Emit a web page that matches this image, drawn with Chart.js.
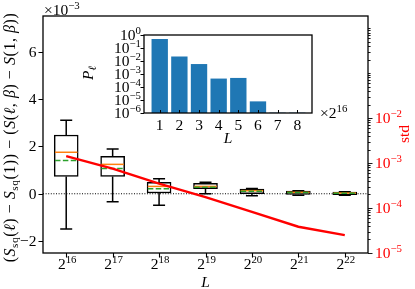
<!DOCTYPE html>
<html><head><meta charset="utf-8">
<script src="https://cdn.jsdelivr.net/npm/chart.js@4.4.0/dist/chart.umd.min.js"></script>
<style>
html,body{margin:0;padding:0;background:#fff;}
#wrap{position:relative;width:415px;height:289px;overflow:hidden;}
#main{position:absolute;left:0;top:0;}
#inset{position:absolute;left:80px;top:25px;}
</style></head><body>
<div id="wrap">
<canvas id="main" width="415" height="289"></canvas>
<canvas id="inset" width="285" height="125"></canvas>
</div>
<script>
// ---------- data ----------
const L_EXP    = [16, 17, 18, 19, 20, 21, 22];           // L = 2^n
const WHISK_LO = [-1.49, -0.34, -0.49, 0.00, -0.08, -0.06, -0.06]; // x1e-3
const Q1       = [0.73, 0.73, 0.03, 0.21, 0.00, -0.03, -0.04];
const MEDIAN   = [1.75, 1.24, 0.31, 0.31, 0.13, 0.06, 0.03];
const MEAN     = [1.40, 1.07, 0.21, 0.27, 0.11, 0.05, 0.02];
const Q3       = [2.48, 1.58, 0.48, 0.44, 0.20, 0.11, 0.07];
const WHISK_HI = [3.10, 1.89, 0.63, 0.49, 0.22, 0.13, 0.08];
const STD      = [1.43e-3, 7.55e-4, 3.48e-4, 1.75e-4, 8.2e-5, 3.84e-5, 2.5e-5];
const Y_TICKS  = [-2, 0, 2, 4, 6];
const STD_LABEL_EXP = [-5, -4, -3, -2];
const STD_DECADES   = [-5, -4, -3, -2, -1, 0];
const INSET_L  = [1, 2, 3, 4, 5, 6, 7, 8];               // x 2^16
const INSET_P  = [0.47, 0.021, 0.0055, 4.2e-4, 4.7e-4, 7.4e-6, 0, 0];
const INSET_Y_EXP = [0, -1, -2, -3, -4, -5, -6];

// ---------- text helpers ----------
const FF = '"Liberation Serif", "DejaVu Serif", serif';
const FS = 15.5;
function fnt(sz, it){ return (it ? 'italic ' : '') + sz + 'px ' + FF; }
function segSize(s, fs){ return (s.sup || s.sub) ? fs * 0.7 : fs; }
function richWidth(ctx, segs, fs){
  let w = 0;
  for (const s of segs){ ctx.font = fnt(segSize(s, fs), s.it); w += ctx.measureText(s.t).width; }
  return w;
}
function drawRich(ctx, segs, x, y, fs, align, color){
  const w = richWidth(ctx, segs, fs);
  let cx = align === 'center' ? x - w / 2 : align === 'right' ? x - w : x;
  ctx.fillStyle = color || '#000';
  ctx.textBaseline = 'alphabetic';
  ctx.textAlign = 'left';
  for (const s of segs){
    ctx.font = fnt(segSize(s, fs), s.it);
    const dy = s.sup ? -fs * 0.38 : s.sub ? fs * 0.2 : 0;
    ctx.fillText(s.t, cx, y + dy);
    cx += ctx.measureText(s.t).width;
  }
}
const MINUS = '\u2212';
function numStr(v){ return v < 0 ? MINUS + Math.abs(v) : String(v); }
function expStr(e){ return e < 0 ? MINUS + Math.abs(e) : String(e); }

// ---------- main chart plugins ----------
const boxPlugin = {
  id: 'boxes',
  afterDatasetDraw(chart, args){
    if (args.index !== 1) return;
    const {ctx, scales: {x, y}} = chart;
    ctx.save();
    L_EXP.forEach((e, i) => {
      const px = x.getPixelForValue(e);
      const hw = 11.25, cw = 6;
      const yHi = y.getPixelForValue(WHISK_HI[i]);
      const yLo = y.getPixelForValue(WHISK_LO[i]);
      ctx.setLineDash([]);
      ctx.strokeStyle = '#000';
      ctx.lineWidth = 1.5;
      ctx.beginPath();
      ctx.moveTo(px, y.getPixelForValue(Q3[i])); ctx.lineTo(px, yHi);
      ctx.moveTo(px, y.getPixelForValue(Q1[i])); ctx.lineTo(px, yLo);
      ctx.moveTo(px - cw, yHi); ctx.lineTo(px + cw, yHi);
      ctx.moveTo(px - cw, yLo); ctx.lineTo(px + cw, yLo);
      ctx.stroke();
      const yMed = y.getPixelForValue(MEDIAN[i]);
      ctx.strokeStyle = '#ff7f0e';
      ctx.beginPath(); ctx.moveTo(px - hw, yMed); ctx.lineTo(px + hw, yMed); ctx.stroke();
      const yMean = y.getPixelForValue(MEAN[i]);
      ctx.strokeStyle = '#2ca02c';
      ctx.setLineDash([5.5, 2.4]);
      ctx.beginPath(); ctx.moveTo(px - hw, yMean); ctx.lineTo(px + hw, yMean); ctx.stroke();
    });
    ctx.restore();
  }
};

const mainDecor = {
  id: 'mainDecor',
  afterDraw(chart){
    const {ctx, chartArea: a, scales: {x, y, y2}} = chart;
    ctx.save();
    ctx.setLineDash([]);
    ctx.strokeStyle = '#000';
    ctx.lineWidth = 1.3;
    ctx.strokeRect(a.left, a.top, a.right - a.left, a.bottom - a.top);
    ctx.lineWidth = 1.1;
    // x ticks
    ctx.beginPath();
    L_EXP.forEach(e => { const px = Math.round(x.getPixelForValue(e)) + 0.5; ctx.moveTo(px, a.bottom); ctx.lineTo(px, a.bottom + 4.5); });
    Y_TICKS.forEach(v => { const py = Math.round(y.getPixelForValue(v)) + 0.5; ctx.moveTo(a.left, py); ctx.lineTo(a.left - 4.5, py); });
    ctx.stroke();
    // right log ticks
    ctx.beginPath();
    STD_DECADES.forEach(d => {
      const base = Math.pow(10, d);
      const major = STD_LABEL_EXP.includes(d);
      if (base >= y2.min && base <= y2.max){
        const py = Math.round(y2.getPixelForValue(base)) + 0.5;
        ctx.moveTo(a.right, py); ctx.lineTo(a.right + (major ? 4.5 : 2.6), py);
      }
      for (let k = 2; k <= 9; k++){
        const v = k * base;
        if (v < y2.min || v > y2.max) continue;
        const py = Math.round(y2.getPixelForValue(v)) + 0.5;
        ctx.moveTo(a.right, py); ctx.lineTo(a.right + 2.6, py);
      }
    });
    ctx.lineWidth = 0.9;
    ctx.stroke();
    // x tick labels 2^n
    L_EXP.forEach(e => {
      drawRich(ctx, [{t: '2'}, {t: String(e), sup: 1}], x.getPixelForValue(e) + 1, 268.5, FS, 'center');
    });
    // y tick labels
    Y_TICKS.forEach(v => {
      drawRich(ctx, [{t: numStr(v)}], a.left - 6.5, y.getPixelForValue(v) + FS * 0.33, FS, 'right');
    });
    // right tick labels
    STD_LABEL_EXP.forEach(d => {
      drawRich(ctx, [{t: '10'}, {t: expStr(d), sup: 1}], a.right + 7, y2.getPixelForValue(Math.pow(10, d)) + FS * 0.33, FS, 'left', '#ff0000');
    });
    // offset text
    drawRich(ctx, [{t: '\u00d710'}, {t: MINUS + '3', sup: 1}], a.left + 1, 15, FS, 'left');
    // x label
    drawRich(ctx, [{t: 'L', it: 1}], (a.left + a.right) / 2, 287, FS, 'center');
    // y label
    ctx.save();
    ctx.translate(15, (a.top + a.bottom) / 2 + 3);
    ctx.rotate(-Math.PI / 2);
    ctx.letterSpacing = '0.55px';
    drawRich(ctx, [
      {t: '('}, {t: 'S', it: 1}, {t: 'sq', sub: 1}, {t: '('}, {t: '\u2113', it: 1}, {t: ') ' + MINUS + ' '},
      {t: 'S', it: 1}, {t: 'sq', sub: 1}, {t: '(1)) ' + MINUS + ' ('},
      {t: 'S', it: 1}, {t: '('}, {t: '\u2113', it: 1}, {t: ', '}, {t: '\u03b2', it: 1}, {t: ') ' + MINUS + ' '},
      {t: 'S', it: 1}, {t: '(1, '}, {t: '\u03b2', it: 1}, {t: '))'}
    ], 0, 0, 16, 'center');
    ctx.restore();
    // right label
    ctx.save();
    ctx.translate(409, 134);
    ctx.rotate(-Math.PI / 2);
    drawRich(ctx, [{t: 'std'}], 0, 0, FS, 'center', '#ff0000');
    ctx.restore();
    ctx.restore();
  }
};

new Chart(document.getElementById('main'), {
  type: 'bar',
  data: {
    datasets: [
      { type: 'line', label: 'std', data: L_EXP.map((e, i) => ({x: e, y: STD[i]})), yAxisID: 'y2', xAxisID: 'x',
        borderColor: '#ff0000', borderWidth: 2.4, pointRadius: 0, tension: 0, fill: false, order: 0 },
      { type: 'bar', label: 'box', data: L_EXP.map((e, i) => ({x: e, y: [Q1[i], Q3[i]]})), yAxisID: 'y', xAxisID: 'x',
        backgroundColor: '#ffffff', borderColor: '#000000', borderWidth: 1.5, borderSkipped: false, barThickness: 24, order: 2 },
      { type: 'line', label: 'zero', data: [{x: 15.5, y: 0}, {x: 22.5, y: 0}], yAxisID: 'y', xAxisID: 'x',
        borderColor: '#000000', borderWidth: 1, borderDash: [1, 1.6], pointRadius: 0, fill: false, order: 3 }
    ]
  },
  options: {
    responsive: false, animation: false, devicePixelRatio: 1,
    layout: {padding: {top: 16, left: 0, right: 0, bottom: 0}},
    plugins: {legend: {display: false}, tooltip: {enabled: false}},
    scales: {
      x: { type: 'linear', min: 15.5, max: 22.5, offset: false,
           grid: {display: false, offset: false}, ticks: {display: false}, border: {display: false},
           afterFit: s => { s.height = 36; } },
      y: { type: 'linear', position: 'left', min: -2.5, max: 7.5,
           grid: {display: false}, ticks: {display: false}, border: {display: false},
           afterFit: s => { s.width = 43; } },
      y2: { type: 'logarithmic', position: 'right', min: 1e-5, max: Math.pow(10, 0.27),
           grid: {display: false}, ticks: {display: false}, border: {display: false},
           afterFit: s => { s.width = 47; } }
    }
  },
  plugins: [boxPlugin, mainDecor]
});

// ---------- inset ----------
const insetDecor = {
  id: 'insetDecor',
  beforeDraw(chart){
    const {ctx, chartArea: a} = chart;
    ctx.save(); ctx.fillStyle = '#fff'; ctx.fillRect(a.left, a.top, a.right - a.left, a.bottom - a.top); ctx.restore();
  },
  afterDraw(chart){
    const {ctx, chartArea: a, scales: {x, y}} = chart;
    ctx.save();
    ctx.strokeStyle = '#000';
    ctx.lineWidth = 1.3;
    ctx.strokeRect(a.left, a.top, a.right - a.left, a.bottom - a.top);
    ctx.lineWidth = 1;
    ctx.beginPath();
    INSET_L.forEach(v => { const px = Math.round(x.getPixelForValue(v)) + 0.5; ctx.moveTo(px, a.bottom); ctx.lineTo(px, a.bottom - 3); });
    INSET_Y_EXP.forEach(e => { const py = Math.round(y.getPixelForValue(Math.pow(10, e))) + 0.5; ctx.moveTo(a.left, py); ctx.lineTo(a.left - 3.5, py); });
    ctx.stroke();
    INSET_Y_EXP.forEach(e => {
      drawRich(ctx, [{t: '10'}, {t: expStr(e), sup: 1}], a.left - 3, y.getPixelForValue(Math.pow(10, e)) + FS * 0.33, FS, 'right');
    });
    INSET_L.forEach(v => {
      drawRich(ctx, [{t: String(v)}], x.getPixelForValue(v), 105, FS, 'center');
    });
    drawRich(ctx, [{t: '\u00d72'}, {t: '16', sup: 1}], a.right + 8, 93, FS, 'left');
    drawRich(ctx, [{t: 'L', it: 1}], (a.left + a.right) / 2, 118, FS, 'center');
    ctx.save();
    ctx.translate(13, 48);
    ctx.rotate(-Math.PI / 2);
    drawRich(ctx, [{t: 'P', it: 1}, {t: '\u2113', it: 1, sub: 1}], 0, 0, FS, 'center');
    ctx.restore();
    ctx.restore();
  }
};

new Chart(document.getElementById('inset'), {
  type: 'bar',
  data: { datasets: [{ label: 'P', data: INSET_L.map((v, i) => ({x: v, y: INSET_P[i]})),
    backgroundColor: '#1f77b4', borderWidth: 0, barThickness: 15.7 }] },
  options: {
    responsive: false, animation: false, devicePixelRatio: 1,
    layout: {padding: {top: 10, right: 53, left: 0, bottom: 0}},
    plugins: {legend: {display: false}, tooltip: {enabled: false}},
    scales: {
      x: { type: 'linear', min: 0.2, max: 8.75, offset: false,
           grid: {display: false, offset: false}, ticks: {display: false}, border: {display: false},
           afterFit: s => { s.height = 37; } },
      y: { type: 'logarithmic', min: 1e-6, max: 1,
           grid: {display: false}, ticks: {display: false}, border: {display: false},
           afterFit: s => { s.width = 64; } }
    }
  },
  plugins: [insetDecor]
});
</script>
</body></html>
